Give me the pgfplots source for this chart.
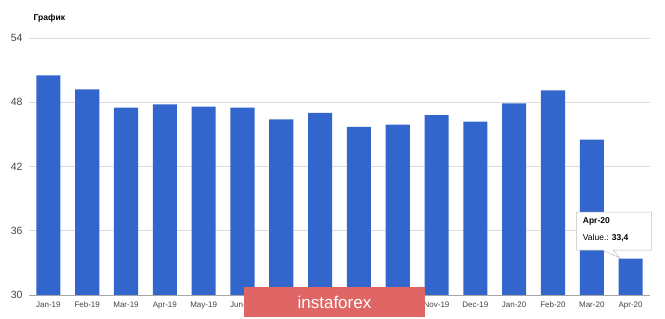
\documentclass[border=0pt]{standalone}
\usepackage{pgfplots}
\pgfplotsset{compat=1.18}
\usepackage{fontspec}
\setmainfont{Liberation Sans}
\definecolor{barblue}{HTML}{3366CC}
\definecolor{ticktext}{HTML}{444444}
\definecolor{gridgray}{HTML}{DDDDDD}
\definecolor{wmred}{HTML}{E06666}

\begin{document}
\begin{tikzpicture}[x=1pt,y=1pt]
  % page size = reference pixels: axis 621x257 at offset (29,24)
  \useasboundingbox (-29,-24) rectangle (636,295);
  \begin{axis}[
      at={(0,0)}, anchor=south west,
      scale only axis,
      width=621pt, height=257pt,
      xmin=-0.5, xmax=15.5,
      ymin=30, ymax=54,
      ytick={30,36,42,48,54},
      xtick={0,...,15},
      xticklabels={Jan-19,Feb-19,Mar-19,Apr-19,May-19,Jun-19,Jul-19,Aug-19,Sep-19,Oct-19,Nov-19,Dec-19,Jan-20,Feb-20,Mar-20,Apr-20},
      ymajorgrids, major grid style={gridgray, line width=0.8pt},
      axis line style={draw=none},
      major tick length=0pt,
      x tick label style={font=\fontsize{8}{9}\selectfont, text=ticktext, yshift=-3pt},
      y tick label style={font=\fontsize{10.5}{12}\selectfont, text=ticktext, xshift=-3pt},
      /pgf/number format/assume math mode=true,
      clip=false,
    ]
    \addplot[ybar, bar width=0.62, fill=barblue, draw=none] coordinates {
      (0,50.5) (1,49.2) (2,47.5) (3,47.8) (4,47.6) (5,47.5) (6,46.4) (7,47.0)
      (8,45.7) (9,45.9) (10,46.8) (11,46.2) (12,47.9) (13,49.1) (14,44.5) (15,33.4)
    };
    \draw[gray!70, line width=0.6pt] (axis cs:-0.5,30) -- (axis cs:15.5,30);
    % title
    \node[anchor=west, font=\fontsize{8.5}{10}\selectfont\bfseries] at (axis cs:-0.47,55.8) {График};
    % tooltip
    \filldraw[draw=gray!50, fill=white, line width=0.5pt]
      (axis cs:13.60,34.2) -- (axis cs:14.28,34.2) -- (axis cs:14.72,33.45) -- (axis cs:14.55,34.2)
      -- (axis cs:15.54,34.2) -- (axis cs:15.54,37.75) -- (axis cs:13.60,37.75) -- cycle;
    \node[anchor=west, font=\fontsize{8.5}{10}\selectfont\bfseries] at (axis cs:13.68,36.85) {Apr-20};
    \node[anchor=west, font=\fontsize{8.5}{10}\selectfont] at (axis cs:13.68,35.3) {Value.: \textbf{33,4}};
    % watermark
    \fill[wmred] (axis cs:5.05,27.95) rectangle (axis cs:9.69,30.75);
    \node[text=white, font=\fontsize{17}{18}\selectfont] at (axis cs:7.37,29.3) {instaforex};
  \end{axis}
\end{tikzpicture}
\end{document}
